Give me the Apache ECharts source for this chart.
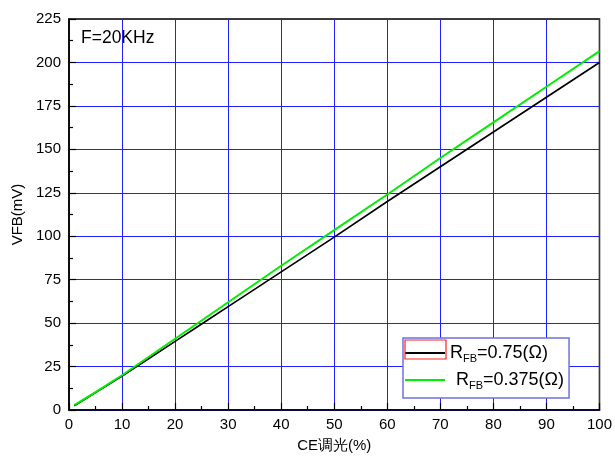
<!DOCTYPE html>
<html><head><meta charset="utf-8">
<script src="https://cdn.jsdelivr.net/npm/echarts@6/dist/echarts.min.js"></script>
<style>html,body{margin:0;padding:0;background:#fff}#c{width:615px;height:458px}</style>
</head><body><div id="c"></div>
<script>
var xBlack = [1, 5, 10, 15, 20, 25, 30, 40, 50, 60, 70, 80, 90, 100];
var yBlack = [2.5, 10, 19.5, 29.5, 39.5, 49.5, 59.5, 79.5, 99.5, 120, 140, 160, 180, 200];
var xGreen = [1, 5, 10, 15, 20, 30, 40, 50, 60, 70, 80, 90, 100];
var yGreen = [2.8, 10.3, 20, 30.5, 41, 62, 83, 103.5, 124, 145, 165.5, 186, 206.5];
var seriesNames = ['R_FB=0.75(Ω)', 'R_FB=0.375(Ω)'];
var xTicks = [0, 10, 20, 30, 40, 50, 60, 70, 80, 90, 100];
var yTicks = [0, 25, 50, 75, 100, 125, 150, 175, 200, 225];

function pairs(xs, ys) { return xs.map(function (x, i) { return [x, ys[i]]; }); }
var font = 'Liberation Sans, Arial, sans-serif';
var chart = echarts.init(document.getElementById('c'));
chart.setOption({
  animation: false,
  backgroundColor: '#fff',
  grid: { left: 69, right: 14, top: 19, bottom: 47, show: true, borderColor: '#000', borderWidth: 1.5, backgroundColor: 'transparent' },
  xAxis: {
    type: 'value', min: xTicks[0], max: xTicks[xTicks.length - 1], interval: 10,
    name: 'CE调光(%)', nameLocation: 'middle', nameGap: 28,
    nameTextStyle: { fontFamily: font, fontSize: 15, color: '#000' },
    axisLine: { lineStyle: { color: '#000', width: 1.5 } },
    axisTick: { inside: true, length: 7, lineStyle: { color: '#000', width: 1.2 } },
    minorTick: { show: true, splitNumber: 2, length: 4, lineStyle: { color: '#000', width: 1.2 } },
    axisLabel: { fontFamily: font, fontSize: 15, color: '#000', margin: 7 },
    splitLine: { show: true, lineStyle: { color: '#2020ff', width: 1 } }
  },
  yAxis: {
    type: 'value', min: yTicks[0], max: yTicks[yTicks.length - 1], interval: 25,
    name: 'VFB(mV)', nameLocation: 'middle', nameGap: 44,
    nameTextStyle: { fontFamily: font, fontSize: 15, color: '#000' },
    axisLine: { lineStyle: { color: '#000', width: 1.5 } },
    axisTick: { inside: true, length: 7, lineStyle: { color: '#000', width: 1.2 } },
    minorTick: { show: true, splitNumber: 2, length: 4, lineStyle: { color: '#000', width: 1.2 } },
    axisLabel: { fontFamily: font, fontSize: 15, color: '#000', margin: 8 },
    splitLine: { show: true, lineStyle: { color: '#2020ff', width: 1 } }
  },
  legend: {
    orient: 'vertical', left: 403, top: 338, width: 166,
    backgroundColor: '#fff', borderColor: '#7070e0', borderWidth: 1.5,
    padding: [4, 5, 7, 2], itemGap: 5,
    icon: 'rect', itemWidth: 40, itemHeight: 2,
    data: seriesNames,
    formatter: function (n) {
      var parts = n.split('_FB');
      var pre = n === seriesNames[1] ? '{sp| }' : '';
      return pre + '{r|R}{s|FB}{r|' + parts[1] + '}';
    },
    textStyle: {
      rich: {
        r: { fontFamily: font, fontSize: 18, color: '#000', lineHeight: 23 },
        s: { fontFamily: font, fontSize: 11, color: '#000', lineHeight: 23, padding: [11, 0, 0, 0] },
        sp: { fontFamily: font, fontSize: 10, lineHeight: 23, width: 6 }
      }
    }
  },
  graphic: [
    { type: 'text', left: 81, top: 29, style: { text: 'F=20KHz', fontFamily: font, fontSize: 17.5, fill: '#000' } },
    { type: 'rect', shape: { x: 405, y: 340, width: 41, height: 19 }, style: { fill: 'none', stroke: '#ff2020', lineWidth: 1.2 }, z: 100 }
  ],
  series: [
    { name: seriesNames[0], type: 'line', data: pairs(xBlack, yBlack), showSymbol: false, lineStyle: { color: '#000', width: 1.7 }, itemStyle: { color: '#000' } },
    { name: seriesNames[1], type: 'line', data: pairs(xGreen, yGreen), showSymbol: false, lineStyle: { color: '#00ee00', width: 2 }, itemStyle: { color: '#00ee00' } }
  ]
});
</script></body></html>
